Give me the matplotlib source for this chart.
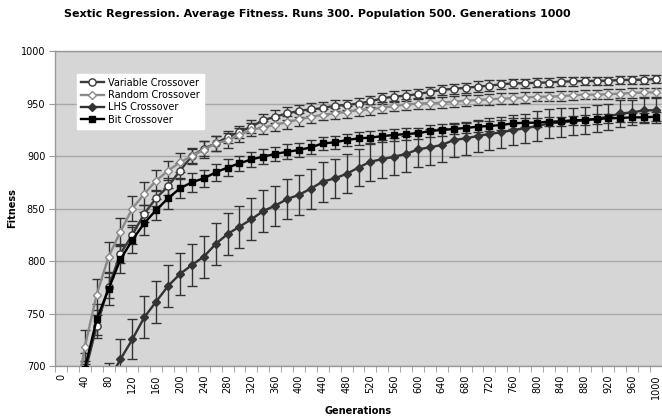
#!/usr/bin/env python3

import matplotlib.pyplot as plt
import numpy as np

plt.rcParams.update({
    "font.family": "DejaVu Sans",
    "font.size": 7,
})

# Generations sampled every 20 steps
generations = list(range(0, 1001, 20))

variable_fit = [450, 620, 693, 738, 775, 807, 825, 845, 860, 871, 886, 900, 907, 912, 918, 923,
                928, 934, 937.5, 940.5, 943, 944.5, 945.5, 948, 948.5, 950, 952, 955, 956.5, 957.5,
                959, 961, 963, 964, 965, 966, 967, 968.3, 969.2, 969.3, 969.8, 970, 970.8, 971.1,
                971.4, 971.5, 971.7, 972.4, 972.5, 972.7, 973.3]
variable_err = [12, 12, 12, 11, 10, 9, 9, 8, 8, 8, 7, 7, 7, 7, 6, 6,
                6, 6, 6, 6, 6, 6, 6, 5, 5, 5, 5, 5, 5, 5,
                5, 5, 5, 5, 5, 5, 5, 4.5, 4.5, 4.5, 4.5, 4.5, 4.5, 4.5,
                4, 4, 4, 4, 4, 4, 4]

random_fit = [460, 650, 718, 768, 804, 828, 850, 864, 876.5, 886, 894, 900, 906, 912, 915, 920,
              925, 927, 930, 932, 935, 937, 939.5, 940.5, 942, 943.8, 944.4, 946, 947.6, 949,
              950, 950.2, 950.8, 951.7, 952.7, 953.3, 954, 954.6, 955, 955.6, 956.5, 956.5, 957,
              957.8, 958.4, 958.4, 959, 959.4, 960, 960.6, 960.6]
random_err = [16, 16, 16, 15, 14, 13, 12, 11, 10, 9, 9, 8, 8, 7, 7, 7,
              6, 6, 6, 6, 6, 6, 5.5, 5.5, 5.5, 5.5, 5, 5, 5, 5,
              5, 5, 5, 5, 5, 5, 5, 5, 5, 5, 4.5, 4.5, 4.5,
              4.5, 4.5, 4.5, 4.5, 4.5, 4.5, 4.5, 4.5]

lhs_fit = [420, 560, 640, 670, 686, 706.4, 725.4, 746.4, 761.3, 776.2, 787.6, 796.2, 804.1,
           816.2, 825.7, 832.7, 839.7, 847.6, 852.7, 859, 863, 869, 875.6, 878.7, 883, 889,
           894.6, 897, 899.4, 902, 906.3, 908.3, 910.5, 915.2, 916.8, 919, 921, 922.5, 924.8,
           926.3, 928.6, 931, 932, 933, 934, 935.5, 937.5, 940.5, 941.5, 943.5, 943.5]
lhs_err = [18, 18, 18, 18, 17, 19, 19, 20, 20, 20, 20, 20, 20, 20, 20, 20,
           20, 20, 19, 19, 19, 19, 19, 18.5, 18.5, 18, 18, 18, 17.5, 17, 17,
           17, 16.5, 16, 16, 15.5, 15, 15, 14, 14, 14, 13.5, 13.5, 13, 13,
           13, 12.5, 12.5, 12, 12, 12]

bit_fit = [440, 630, 697, 744.4, 773.3, 801.6, 820, 836, 848.6, 859.7, 869.2, 875, 878.7,
           884.4, 889, 893, 896.8, 899.4, 902, 904, 905.7, 908.3, 912, 913, 915.2, 916.8,
           917.5, 919, 920, 921, 921.6, 923.8, 924.8, 925.7, 926.7, 927.9, 928.6, 929.5,
           931.1, 931.7, 931.7, 932.7, 933, 934, 934.3, 935.2, 935.9, 936.2, 936.8, 936.8, 937.5]
bit_err = [15, 15, 15, 15, 15, 13, 12, 11, 10, 10, 9, 9, 8, 8, 8, 7,
           7, 7, 7, 7, 6.5, 6.5, 6.5, 6, 6, 6, 6, 6, 5.5, 5.5, 5.5,
           5.5, 5.5, 5, 5, 5, 5, 5, 5, 4.5, 4.5, 4.5, 4.5, 4.5, 4.5,
           4.5, 4, 4, 4, 4, 4]

series_names = ["Variable Crossover", "Random Crossover", "LHS Crossover", "Bit Crossover"]

fig = plt.figure(figsize=(6.62, 4.19), dpi=100)
ax = fig.add_axes([55 / 662, 1 - 366 / 419, 1 - 55 / 662, 315 / 419])
ax.set_facecolor("#d6d6d6")

pos = np.arange(len(generations))

styles = [
    dict(color="#3a3a3a", marker="o", markersize=5.2, markerfacecolor="white",
         markeredgecolor="#3a3a3a", markeredgewidth=1.0, linewidth=1.7),
    dict(color="#8a8a8a", marker="D", markersize=3.6, markerfacecolor="white",
         markeredgecolor="#8a8a8a", markeredgewidth=1.0, linewidth=1.7),
    dict(color="#333333", marker="D", markersize=3.8, markerfacecolor="#333333",
         markeredgecolor="#333333", linewidth=1.7),
    dict(color="#000000", marker="s", markersize=4.2, markerfacecolor="#000000",
         markeredgecolor="#000000", linewidth=1.7),
]

handles = []
for fit, err, name, st in zip([variable_fit, random_fit, lhs_fit, bit_fit],
                              [variable_err, random_err, lhs_err, bit_err],
                              series_names, styles):
    ax.errorbar(pos, fit, yerr=err, fmt="none", ecolor="#333333", elinewidth=1.0,
                capsize=3.5, capthick=1.0, zorder=2)
    h, = ax.plot(pos, fit, label=name, zorder=3, **st)
    handles.append(h)

ax.set_xlim(-0.5, len(generations) - 0.5)
ax.set_ylim(700, 1000)
ax.set_yticks(np.arange(700, 1001, 50))
ax.grid(axis="y", color="#a8a8a8", linewidth=1.0)
ax.set_axisbelow(True)

# category labels every 40 generations, tick marks between categories
ax.set_xticks(pos[::2])
ax.set_xticklabels([str(g) for g in generations[::2]], rotation=90)
ax.set_xticks(np.arange(-0.5, len(generations), 1), minor=True)
ax.tick_params(axis="x", which="major", length=0, pad=6, labelsize=7)
ax.tick_params(axis="x", which="minor", length=4, color="#999999", direction="out")
ax.tick_params(axis="y", length=4, color="#999999", direction="out", labelsize=7, pad=3)

for side in ["left", "bottom", "top"]:
    ax.spines[side].set_color("#999999")
    ax.spines[side].set_linewidth(1.0)
ax.spines["right"].set_visible(False)

ax.set_xlabel("Generations", fontweight="bold", fontsize=7)
ax.set_ylabel("Fitness", fontweight="bold", fontsize=7)
ax.xaxis.set_label_coords(0.5, -0.127)
ax.yaxis.set_label_coords(-0.062, 0.5)

fig.text(317 / 662, 1 - 14 / 419,
         "Sextic Regression. Average Fitness. Runs 300. Population 500. Generations 1000",
         ha="center", va="center", fontweight="bold", fontsize=8)

leg = ax.legend(handles, series_names, loc="upper left", bbox_to_anchor=(0.036, 0.928),
                frameon=True, fancybox=False, edgecolor="white", facecolor="white",
                framealpha=1.0, fontsize=7, handlelength=2.4, handletextpad=0.4,
                labelspacing=0.25, borderpad=0.4, borderaxespad=0)

fig.savefig("out.png", dpi=100)
